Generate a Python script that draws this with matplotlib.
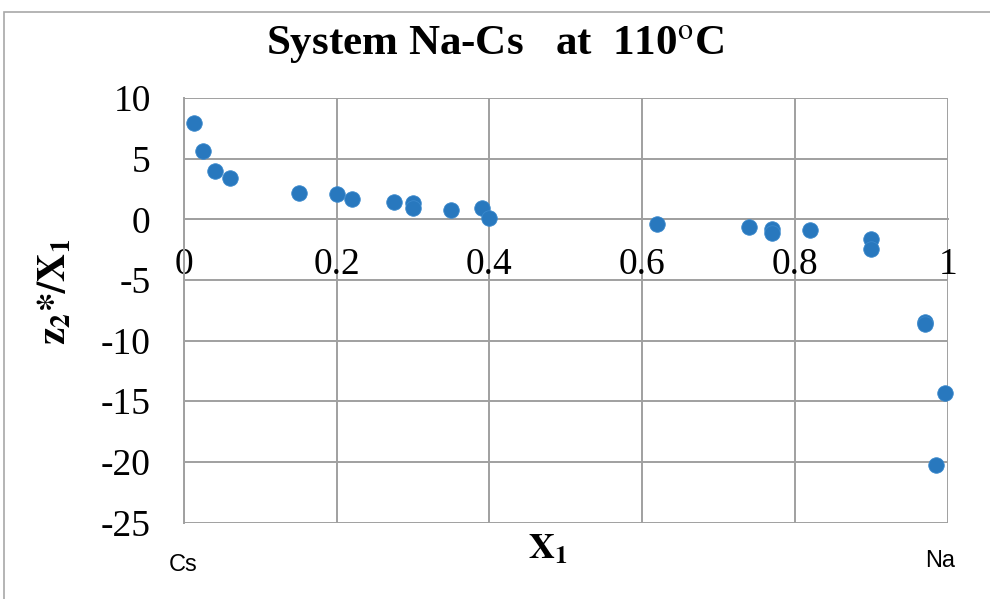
import matplotlib.pyplot as plt
from matplotlib.patches import Rectangle

# mole fraction of Na (X1) and z2*/X1
x1 = [0.0135, 0.025, 0.040, 0.060, 0.150, 0.200, 0.220, 0.275, 0.300, 0.300,
      0.350, 0.390, 0.400, 0.620, 0.740, 0.770, 0.770, 0.820, 0.900, 0.900,
      0.970, 0.970, 0.997, 0.985]
z2_x1 = [7.9, 5.6, 4.0, 3.4, 2.17, 2.12, 1.65, 1.40, 1.32, 0.94,
         0.80, 0.91, 0.08, -0.41, -0.66, -0.77, -1.13, -0.85, -1.63, -2.42,
         -8.49, -8.65, -14.35, -20.3]

xticks = [0, 0.2, 0.4, 0.6, 0.8, 1]
xticklabels = ['0', '0.2', '0.4', '0.6', '0.8', '1']
yticks = [10, 5, 0, -5, -10, -15, -20, -25]

plt.rcParams['font.family'] = ['Liberation Serif', 'DejaVu Serif']
plt.rcParams['mathtext.fontset'] = 'stix'
plt.rcParams['axes.unicode_minus'] = False

fig = plt.figure(figsize=(9.9, 5.99), dpi=100)
ax = fig.add_axes([184 / 990, 1 - 522.5 / 599, (947.7 - 184) / 990, (522.5 - 98) / 599])

# outer chart frame (clipped at right and bottom)
fig.patches.append(Rectangle((4 / 990, -0.1), 2, 1.1 - 12 / 599, transform=fig.transFigure,
                             fill=False, edgecolor='#A8A8A8', linewidth=1.2))

ax.scatter(x1, z2_x1, s=125, color='#2878BE', edgecolors='#3A88CC', linewidths=0.6,
           zorder=3, clip_on=False)

ax.set_xlim(0, 1)
ax.set_ylim(-25, 10)
ax.set_xticks(xticks)
ax.set_xticklabels(xticklabels)
ax.set_yticks(yticks)
ax.grid(True, color='#A0A0A0', linewidth=1.4)
ax.set_axisbelow(True)

for s in ['top', 'right']:
    ax.spines[s].set_visible(False)
ax.spines['bottom'].set_position(('data', 0))
for s in ['left', 'bottom']:
    ax.spines[s].set_color('#A0A0A0')
    ax.spines[s].set_linewidth(1.4)

ax.tick_params(axis='x', length=0, pad=20, labelsize=27)
ax.tick_params(axis='y', length=0, pad=24, labelsize=27)

fig.text(0.5, 1 - 45 / 599, 'System Na-Cs   at  110$^{\\mathrm{o}}$C', ha='center', va='center',
         fontsize=31, fontweight='bold')
fig.text(55 / 990, 1 - 292 / 599, r'$\mathbf{z_2{*}/X_1}$', rotation=90, ha='center', va='center',
         fontsize=28)
fig.text(548 / 990, 1 - 550 / 599, r'$\mathbf{X_1}$', ha='center', va='center', fontsize=26)
fig.text(183 / 990, 1 - 565 / 599, 'Cs', ha='center', va='center', fontsize=17, family='Liberation Sans')
fig.text(940 / 990, 1 - 561 / 599, 'Na', ha='center', va='center', fontsize=17, family='Liberation Sans')

fig.savefig('out.png', dpi=100)
